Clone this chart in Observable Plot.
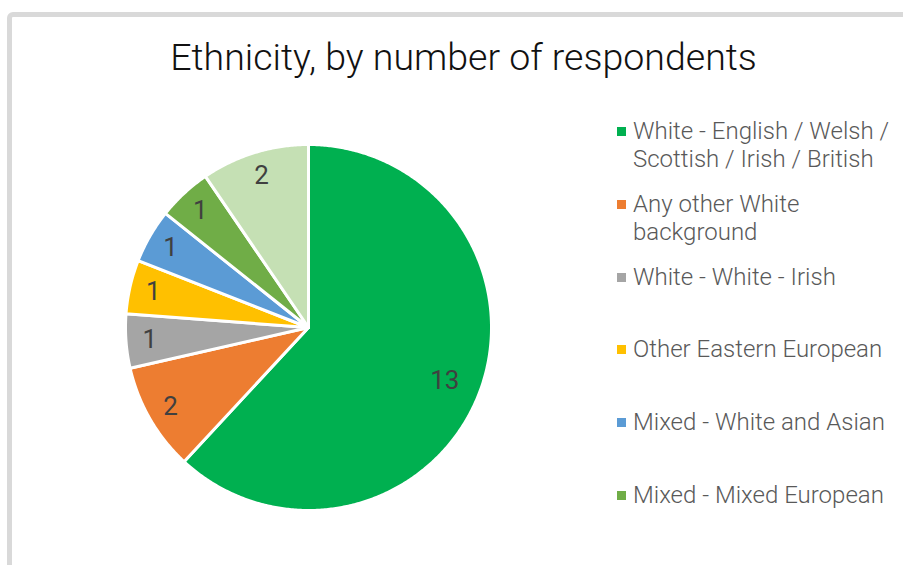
<!DOCTYPE html>
<html>
<head>
<meta charset="utf-8">
<script src="https://cdn.jsdelivr.net/npm/d3@7"></script>
<script src="https://cdn.jsdelivr.net/npm/@observablehq/plot@0.6"></script>
<style>
  html, body { margin: 0; padding: 0; background: #fff; }
  #wrap { position: relative; width: 903px; height: 565px; overflow: hidden; background: #fff; font-family: Roboto, "Noto Sans", sans-serif; }
  #frame { position: absolute; left: 7px; top: 12px; width: 1200px; height: 1200px; border: 5px solid #d9d9d9; border-radius: 6px; box-sizing: border-box; }
  #chart { position: absolute; left: 0; top: 0; }
  #title { position: absolute; left: 0; top: 37px; width: 927px; text-align: center; font-size: 37.5px; font-weight: 300; color: #111; line-height: 40px; white-space: nowrap; }
  #legend { position: absolute; left: 617px; top: 117px; }
  .item { position: absolute; left: 0; width: 290px; height: 72px; }
  .sw { position: absolute; left: 0; top: 10px; width: 9px; height: 9px; }
  .lab { position: absolute; left: 16px; top: 0; width: 270px; font-size: 24px; font-weight: 300; color: #595959; line-height: 28px; }
</style>
</head>
<body>
<div id="wrap">
  <div id="frame"></div>
  <div id="chart"></div>
  <div id="title"></div>
  <div id="legend"></div>
</div>
<script>
const title = "Ethnicity, by number of respondents";
const categories = [
  "White - English / Welsh / Scottish / Irish / British",
  "Any other White background",
  "White - White - Irish",
  "Other Eastern European",
  "Mixed - White and Asian",
  "Mixed - Mixed European",
  "Any other ethnic group"
];
const counts = [13, 2, 1, 1, 1, 1, 2];
const colors = ["#00b050", "#ed7d31", "#a5a5a5", "#ffc000", "#5b9bd5", "#70ad47", "#c5e0b4"];
// The legend in the reference only shows the first six entries (the rest is cut off)
const legendShown = 6;

document.getElementById("title").textContent = title;

// Build slice polygons (unit circle, starting at 12 o'clock, clockwise)
const total = d3.sum(counts);
const pie = d3.pie().sort(null).value(d => d)(counts);
const pts = [];
const labels = [];
pie.forEach((s, i) => {
  const a0 = s.startAngle, a1 = s.endAngle;
  const n = Math.max(4, Math.ceil((a1 - a0) / (Math.PI / 360)));
  pts.push({cat: categories[i], x: 0, y: 0});
  for (let k = 0; k <= n; k++) {
    const a = a0 + (a1 - a0) * k / n;
    pts.push({cat: categories[i], x: Math.sin(a), y: -Math.cos(a)});
  }
  pts.push({cat: categories[i], x: 0, y: 0});
  const m = (a0 + a1) / 2;
  const r = counts[i] / total > 0.25 ? 0.8 : 0.87;
  labels.push({cat: categories[i], text: String(counts[i]), x: r * Math.sin(m), y: -r * Math.cos(m)});
});

const plot = Plot.plot({
  width: 903,
  height: 565,
  margin: 0,
  x: {domain: [-1, 1], range: [125, 491], axis: null},
  y: {domain: [-1, 1], range: [144, 510], axis: null},
  color: {domain: categories, range: colors},
  style: {background: "transparent", fontFamily: "Roboto, sans-serif"},
  marks: [
    Plot.line(pts, {x: "x", y: "y", z: "cat", fill: "cat", stroke: "white", strokeWidth: 3, strokeLinejoin: "round", curve: "linear"}),
    Plot.text(labels, {x: "x", y: "y", text: "text", fontSize: 26, fill: "#404040", fontWeight: 400})
  ]
});
document.getElementById("chart").appendChild(plot);

// Legend
const legend = document.getElementById("legend");
categories.slice(0, legendShown).forEach((c, i) => {
  const item = document.createElement("div");
  item.className = "item";
  item.style.top = (i * 72.8) + "px";
  const sw = document.createElement("div");
  sw.className = "sw";
  sw.style.background = colors[i];
  const lab = document.createElement("div");
  lab.className = "lab";
  lab.textContent = c;
  item.appendChild(sw);
  item.appendChild(lab);
  legend.appendChild(item);
});
</script>
</body>
</html>
